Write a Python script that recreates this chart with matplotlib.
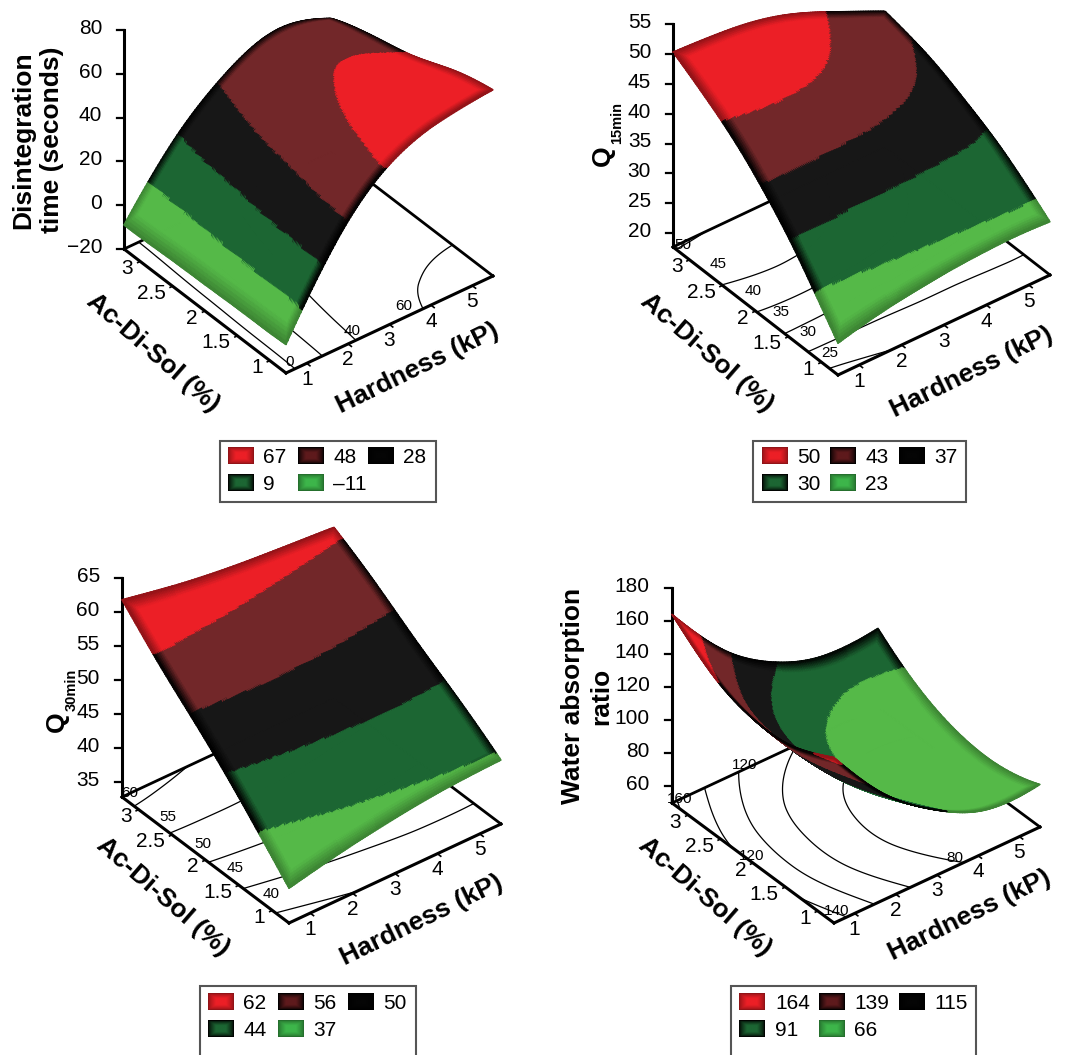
import numpy as np
import matplotlib
matplotlib.use('Agg')
from matplotlib import pyplot as plt
from matplotlib import tri as mtri
from matplotlib.patches import Rectangle
from mpl_toolkits.mplot3d import proj3d
from mpl_toolkits.mplot3d.art3d import Poly3DCollection

plt.rcParams['font.family'] = ['Liberation Sans', 'DejaVu Sans']

W, H = 1067, 1055

# response at the grid nodes (rows = Ac-Di-Sol, columns = hardness)
hardness_nodes = [0.5, 1.75, 3.0, 4.25, 5.5]
ads_nodes = [0.75, 1.375, 2.0, 2.625, 3.25]
hardness_ticks = [1, 2, 3, 4, 5]
ads_ticks = [1, 1.5, 2, 2.5, 3]

dt_values = [[-7, 30, 53, 62, 65],
             [-7.5, 28, 50, 58, 60],
             [-8, 25.5, 46.5, 53.5, 52.5],
             [-8.5, 23, 43, 50.5, 47.5],
             [-9, 20, 39, 47.5, 41]]
q15_values = [[23, 25, 26.2, 26.8, 26.6],
              [32.5, 32.3, 32.2, 32, 31.8],
              [40.2, 40.6, 40, 38.5, 35.7],
              [45.9, 46.5, 45.3, 42.2, 38.7],
              [50.3, 49.7, 48, 44.5, 40.4]]
q30_values = [[37.9, 39.6, 40.9, 41.8, 42.2],
              [44.4, 45.6, 46.3, 46.6, 46.4],
              [50.4, 51, 51.1, 50.8, 50.2],
              [55.8, 55.8, 55.5, 55, 54.3],
              [61.8, 60.3, 59.2, 58.5, 57.9]]
war_values = [[150, 113, 89, 75, 75.5],
              [138.5, 102.4, 79.5, 67.2, 68.6],
              [137, 101.4, 79.3, 68.2, 70],
              [145.5, 109.9, 88.1, 77.9, 79.6],
              [164, 128, 106, 96, 97.4]]

dt_bands = [5.8, 21, 36, 51.7]
q15_bands = [28.5, 34, 39.5, 45]
q30_bands = [42.7, 47.7, 52.5, 57.2]
war_bands = [85, 105, 124, 143]

dt_legend = ['67', '48', '28', '9', '\u201311']
q15_legend = ['50', '43', '37', '30', '23']
q30_legend = ['62', '56', '50', '44', '37']
war_legend = ['164', '139', '115', '91', '66']

dt_zticks = [-20, 0, 20, 40, 60, 80]
q15_zticks = [20, 25, 30, 35, 40, 45, 50, 55]
q30_zticks = [35, 40, 45, 50, 55, 60, 65]
war_zticks = [60, 80, 100, 120, 140, 160, 180]

dt_contours = [0, 20, 40, 60]
q15_contours = [25, 30, 35, 40, 45, 50]
q30_contours = [40, 45, 50, 55, 60]
war_contours = [80, 100, 120, 140, 160]

band_colors = ['#55b948', '#1c6633', '#171717', '#722729', '#ec1f26']
edge_dark = [0.3, 1.0, 1.0, 1.0, 0.4]
legend_colors = ['#ec1f26', '#5e1a1c', '#050505', '#1c6633', '#3db54a']

# pixel layout of every panel: floor corners, axis labels, legend
panels = [
    dict(values=dt_values, bands=dt_bands, legend=dt_legend, zticks=dt_zticks,
         contours=dt_contours, zlim=(-20, 80),
         left=(124, 249), front=(286, 373), right=(493, 276), ztop=30,
         ylabel='Disintegration\ntime (seconds)', ylabel_at=(38, 140), sub=None,
         ads_at=(153, 353), hard_at=(418, 368),
         clabels=[('0', 290, 362), ('40', 352, 331), ('60', 404, 306)],
         box=(220, 441, 436, 502), sw=(228, 298, 368), tx=(263, 333, 403), rows=(447, 474)),
    dict(values=q15_values, bands=q15_bands, legend=q15_legend, zticks=q15_zticks,
         contours=q15_contours, zlim=(17.7, 55),
         left=(673, 247), front=(838, 375), right=(1050, 275), ztop=24,
         ylabel='Q', ylabel_at=(603, 156), sub=('15min', 617, 123),
         ads_at=(707, 353), hard_at=(972, 372),
         clabels=[('50', 683, 245), ('45', 718, 264), ('40', 753, 291),
                  ('35', 781, 312), ('30', 808, 332), ('25', 830, 353)],
         box=(753, 441, 966, 502), sw=(762, 830, 899), tx=(797, 865, 934), rows=(447, 474)),
    dict(values=q30_values, bands=q30_bands, legend=q30_legend, zticks=q30_zticks,
         contours=q30_contours, zlim=(32.8, 65),
         left=(122, 797), front=(289, 923), right=(501, 824), ztop=578,
         ylabel='Q', ylabel_at=(57, 722), sub=('30min', 72, 690),
         ads_at=(163, 897), hard_at=(422, 920),
         clabels=[('60', 130, 793), ('55', 168, 817), ('50', 203, 844),
                  ('45', 235, 868), ('40', 271, 894)],
         box=(200, 986, 416, 1075), sw=(208, 278, 348), tx=(243, 313, 383), rows=(993, 1020)),
    dict(values=war_values, bands=war_bands, legend=war_legend, zticks=war_zticks,
         contours=war_contours, zlim=(49.7, 180),
         left=(672, 803), front=(834, 923), right=(1040, 827), ztop=588,
         ylabel='Water absorption\nratio', ylabel_at=(587, 696), sub=None,
         ads_at=(705, 897), hard_at=(970, 915),
         clabels=[('160', 680, 799), ('120', 745, 765), ('120', 752, 856),
                  ('140', 837, 911), ('80', 955, 858)],
         box=(731, 986, 976, 1075), sw=(739, 819, 899), tx=(775, 854, 934), rows=(993, 1020)),
]

xlim = (hardness_nodes[0], hardness_nodes[-1])
ylim = (ads_nodes[0], ads_nodes[-1])

fig = plt.figure(figsize=(W / 100, H / 100), dpi=100)


def to_rgb(c):
    return np.array(matplotlib.colors.to_rgb(c))


def to_display(ax, x, y, z):
    xs, ys, _ = proj3d.proj_transform(np.atleast_1d(x), np.atleast_1d(y), np.atleast_1d(z),
                                      ax.get_proj())
    return ax.transData.transform(np.column_stack([xs, ys]))


def fit_axes(ax, p):
    # move and scale the 3d axes so that the floor corners land on the picture's corners
    cx, cy = p['front'][0], H - p['front'][1]
    S = 560.0
    ax.set_position([(cx - S / 2) / W, (cy - S / 2) / H, S / W, S / H])
    for i in range(3):
        ax.apply_aspect()
        d = to_display(ax, np.array(xlim), np.array([ylim[0]] * 2), np.array([p['zlim'][0]] * 2))
        k = (p['right'][0] - p['front'][0]) / (d[1, 0] - d[0, 0])
        bb = ax.get_position()
        ox, oy = (bb.x0 + bb.x1) / 2 * W, (bb.y0 + bb.y1) / 2 * H
        nx = cx + (ox - d[0, 0]) * k
        ny = cy + (oy - d[0, 1]) * k
        S = S * k
        ax.set_position([(nx - S / 2) / W, (ny - S / 2) / H, S / W, S / H])
    ax.apply_aspect()


def draw_panel(p):
    hx = p['right'][0] - p['front'][0]
    hy = p['front'][1] - p['right'][1]
    ax_ = p['front'][0] - p['left'][0]
    ay = p['front'][1] - p['left'][1]
    zpx = p['left'][1] - p['ztop']
    sin_e = np.sqrt(hy / hx * ay / ax_)
    elev = np.degrees(np.arcsin(sin_e))
    t = np.arctan(np.sqrt((ay / ax_) / (hy / hx)))
    azim = -180 + np.degrees(t)
    Lx, Ly, Lz = hx / np.sin(t), ax_ / np.cos(t), zpx / np.cos(np.radians(elev))

    ax = fig.add_axes([0, 0, 0.5, 0.5], projection='3d', proj_type='ortho',
                      computed_zorder=False)
    ax.patch.set_visible(False)
    ax.view_init(elev=elev, azim=azim)
    ax.set_xlim(*xlim, view_margin=0)
    ax.set_ylim(*ylim, view_margin=0)
    ax.set_zlim(*p['zlim'], view_margin=0)
    ax.set_box_aspect((Lx, Ly, Lz))
    fit_axes(ax, p)

    ax.grid(False)
    for axis in (ax.xaxis, ax.yaxis, ax.zaxis):
        axis.set_pane_color((1, 1, 1, 0))
        axis.pane.set_edgecolor((1, 1, 1, 0))
        axis.line.set_linewidth(2.2)
        axis.line.set_color('k')
        axis._axinfo['tick']['inward_factor'] = 0.0
        axis._axinfo['tick']['outward_factor'] = 0.0
    ax.set_xticks([])
    ax.set_yticks([])
    ax.set_zticks(p['zticks'])
    ax.tick_params(axis='z', labelsize=15, pad=2)
    for t_ in ax.get_zticklabels():
        t_.set_ha('right')
        t_.set_va('center')

    # floor ticks and labels; the Ac-Di-Sol labels are right aligned like the original
    zb = p['zlim'][0]
    for v in ads_ticks:
        ax.plot([xlim[0] - 0.06, xlim[0]], [v, v], [zb, zb], color='k', lw=1.2, zorder=1)
        d = to_display(ax, xlim[0], v, zb)[0]
        fig.text((d[0] - 7) / W, (d[1] - 7) / H, str(v), fontsize=15, ha='right', va='center')
    for v in hardness_ticks:
        ax.plot([v, v], [ylim[0] - 0.05, ylim[0]], [zb, zb], color='k', lw=1.2, zorder=1)
        d = to_display(ax, v, ylim[0], zb)[0]
        fig.text(d[0] / W, (d[1] - 16) / H, str(v), fontsize=15, ha='center', va='center')

    # back edges of the floor
    ax.plot([xlim[0], xlim[1], xlim[1]], [ylim[1], ylim[1], ylim[0]], [zb, zb, zb],
            color='k', lw=2.0, zorder=1)

    # smooth surface from the grid values
    gx, gy = np.meshgrid(hardness_nodes, ads_nodes)
    z = np.array(p['values'], dtype=float).ravel()
    tr = mtri.Triangulation(gx.ravel(), gy.ravel())
    interp = mtri.CubicTriInterpolator(tr, z, kind='min_E')
    rtr, rz = mtri.UniformTriRefiner(tr).refine_field(z, triinterpolator=interp, subdiv=5)

    ax.tricontour(rtr, rz, levels=p['contours'], colors='k', linewidths=0.9,
                  zdir='z', offset=zb, zorder=1.5)

    tris = rtr.triangles
    vx, vy = rtr.x[tris], rtr.y[tris]
    verts = np.stack([vx, vy, rz[tris]], axis=2)
    zm = rz[tris].mean(axis=1)
    band = np.searchsorted(p['bands'], zm)
    rgb = np.array([to_rgb(c) for c in band_colors])[band]
    # the colour runs dark towards the rim of the sheet
    fx = (vx.mean(axis=1) - xlim[0]) / (xlim[1] - xlim[0])
    fy = (vy.mean(axis=1) - ylim[0]) / (ylim[1] - ylim[0])
    rim = np.minimum.reduce([fx, 1 - fx, fy, 1 - fy])
    dark = np.clip(1 - rim / 0.04, 0, 1) * np.array(edge_dark)[band]
    rgb = rgb * (1 - dark[:, None])
    pc = Poly3DCollection(verts, facecolors=rgb, edgecolors=rgb, linewidths=1.0, zorder=3)
    ax.add_collection3d(pc)

    for s, x, y in p['clabels']:
        fig.text(x / W, 1 - y / H, s, fontsize=11, ha='center', va='center', zorder=20)

    # axis titles
    fig.text(p['ads_at'][0] / W, 1 - p['ads_at'][1] / H, 'Ac-Di-Sol (%)', fontsize=19,
             fontweight='bold', rotation=-41, rotation_mode='anchor', ha='center', va='center')
    fig.text(p['hard_at'][0] / W, 1 - p['hard_at'][1] / H, 'Hardness (kP)', fontsize=19,
             fontweight='bold', rotation=26, rotation_mode='anchor', ha='center', va='center')
    fig.text(p['ylabel_at'][0] / W, 1 - p['ylabel_at'][1] / H, p['ylabel'], fontsize=19,
             fontweight='bold', rotation=90, ha='center', va='center', linespacing=1.25,
             multialignment='center')
    if p['sub']:
        s, x, y = p['sub']
        fig.text(x / W, 1 - y / H, s, fontsize=10.5, fontweight='bold', rotation=90,
                 ha='center', va='center')


def swatch(axl, x0, y0, color):
    w, h = 26, 17
    yy, xx = np.mgrid[0:1:20j, 0:1:30j]
    d = np.minimum.reduce([xx, 1 - xx, yy, 1 - yy])
    k = (np.clip(d / 0.3, 0, 1) ** 0.7)[..., None]
    c = to_rgb(color)
    edge = c * 0.6 if color in ('#ec1f26', '#3db54a') else np.zeros(3)
    axl.imshow(edge * (1 - k) + c * k, extent=(x0, x0 + w, y0 + h, y0), aspect='auto',
               interpolation='bilinear', zorder=3)


def draw_legend(axl, p):
    x0, y0, x1, y1 = p['box']
    axl.add_patch(Rectangle((x0, y0), x1 - x0, y1 - y0, fc='white', ec='#555555', lw=1.5))
    pos = [(0, 0), (1, 0), (2, 0), (0, 1), (1, 1)]
    for (c, r), lab, col in zip(pos, p['legend'], legend_colors):
        swatch(axl, p['sw'][c], p['rows'][r], col)
        axl.text(p['tx'][c], p['rows'][r] + 8.5, lab, fontsize=15, ha='left', va='center_baseline')


for p in panels:
    draw_panel(p)

axl = fig.add_axes([0, 0, 1, 1], zorder=10)
axl.patch.set_visible(False)
for p in panels:
    draw_legend(axl, p)
    # z ticks stick straight out to the left of the axis
    ys = np.interp(p['zticks'], p['zlim'], [p['left'][1], p['ztop']])
    for y in ys:
        axl.plot([p['left'][0] - 7, p['left'][0]], [y, y], color='k', lw=1.6)
axl.set_xlim(0, W)
axl.set_ylim(H, 0)
axl.axis('off')

fig.savefig('out.png', dpi=100)
